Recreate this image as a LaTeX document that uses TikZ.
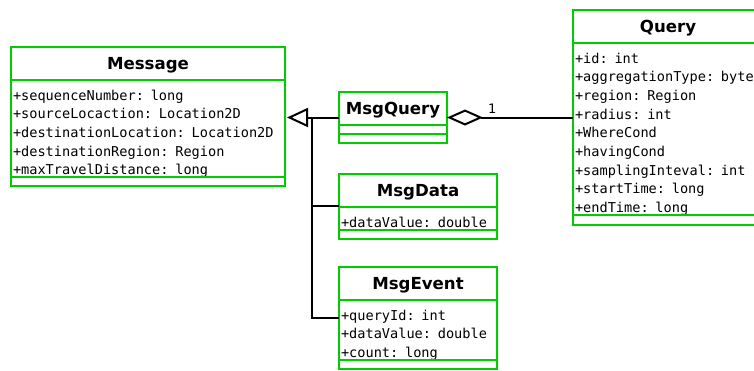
\documentclass[tikz,border=0pt]{standalone}
\usepackage{fontspec}
\setsansfont{DejaVu Sans}
\setmonofont{DejaVu Sans Mono}
\usetikzlibrary{positioning,fit,arrows.meta}
\definecolor{umlgreen}{RGB}{0,204,0}
\newcommand{\attrstrut}{\rule{0pt}{20pt}}
\begin{document}
\begin{tikzpicture}[x=1pt, y=-1pt,
	clsname/.style={draw=umlgreen, line width=2pt, outer sep=0pt, anchor=north, minimum height=33pt, text height=12pt, text depth=0pt, font=\sffamily\bfseries\fontsize{16.6}{20}\selectfont},
	clsattr/.style={draw=umlgreen, line width=2pt, outer sep=0pt, inner xsep=2pt, inner ysep=0pt, align=left, font=\ttfamily\fontsize{13.6}{18.7}\selectfont},
	clsempty/.style={draw=umlgreen, line width=2pt, outer sep=0pt, inner sep=0pt, minimum height=9pt},
	cls/.style={inner sep=0pt, outer sep=0pt},
	link/.style={draw=black, line width=2pt},
	inherit/.style={link, -{Triangle[open, length=21pt, width=19pt]}, shorten >=2pt},
	aggr/.style={link, {Diamond[open, length=36pt, width=16pt]}-},
	mult/.style={font=\sffamily\fontsize{13}{15}\selectfont, inner sep=0pt}]
	\useasboundingbox (0,0) rectangle (754,370);
	\clip (0,0) rectangle (754,370);

	\node[clsname, minimum width=274pt] (msg) at (148,47) {Message};
	\node[clsattr, text width=270pt, text depth=77.3pt, below=0pt of msg] (msga) {\attrstrut+sequenceNumber: long\\+sourceLocaction: Location2D\\+destinationLocation: Location2D\\+destinationRegion: Region\\+maxTravelDistance: long};
	\node[clsempty, minimum width=274pt, below=0pt of msga] (msge) {};
	\node[cls, fit=(msg)(msge)] (Message) {};

	\node[clsname, minimum width=108pt] (mq) at (393,92) {MsgQuery};
	\node[clsempty, minimum width=108pt, below=0pt of mq] (mqa) {};
	\node[clsempty, minimum width=108pt, below=0pt of mqa] (mqe) {};
	\node[cls, fit=(mq)(mqe)] (MsgQuery) {};

	\node[clsname, minimum width=158pt] (md) at (418,174) {MsgData};
	\node[clsattr, text width=154pt, text depth=2.5pt, below=0pt of md] (mda) {\attrstrut+dataValue: double};
	\node[clsempty, minimum width=158pt, below=0pt of mda] (mde) {};
	\node[cls, fit=(md)(mde)] (MsgData) {};

	\node[clsname, minimum width=158pt] (mev) at (418,267) {MsgEvent};
	\node[clsattr, text width=154pt, text depth=39.9pt, below=0pt of mev] (meva) {\attrstrut+queryId: int\\+dataValue: double\\+count: long};
	\node[clsempty, minimum width=158pt, below=0pt of meva] (meve) {};
	\node[cls, fit=(mev)(meve)] (MsgEvent) {};

	\node[clsname, minimum width=190pt] (qry) at (668,10) {Query};
	\node[clsattr, text width=186pt, text depth=152.1pt, below=0pt of qry] (qrya) {\attrstrut+id: int\\+aggregationType: byte\\+region: Region\\+radius: int\\+WhereCond\\+havingCond\\+samplingInteval: int\\+startTime: long\\+endTime: long};
	\node[clsempty, minimum width=190pt, minimum height=10pt, below=0pt of qrya] (qrye) {};
	\node[cls, fit=(qry)(qrye)] (Query) {};

	\draw[inherit] (MsgQuery.west) -- (Message.east |- MsgQuery.west);
	\draw[link] (MsgData.west) -- ++(-27,0) |- (MsgQuery.west);
	\draw[link] (MsgEvent.west) -- ++(-27,0) |- (MsgQuery.west);
	\draw[aggr] (MsgQuery.east) -- (Query.west |- MsgQuery.east) node[mult, pos=0, anchor=base west, xshift=40pt, yshift=4.5pt] (m1) {1};
\end{tikzpicture}
\end{document}
